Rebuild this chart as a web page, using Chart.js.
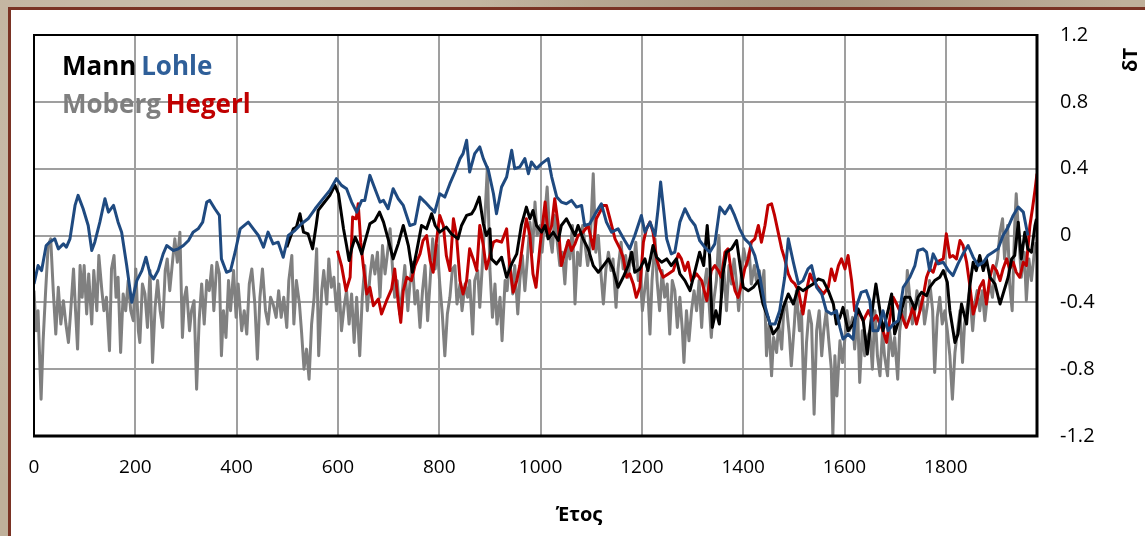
<!DOCTYPE html>
<html>
<head>
<meta charset="utf-8">
<title>Mann Lohle Moberg Hegerl</title>
<script src="https://cdn.jsdelivr.net/npm/chart.js@4.4.1/dist/chart.umd.min.js"></script>
<style>
	html, body { margin: 0; padding: 0; }
	body {
		width: 1145px; height: 536px; overflow: hidden; position: relative;
		background-color: #bfb09a;
		background-image:
			radial-gradient(circle at 20% 30%, rgba(255,255,255,0.25) 0, rgba(255,255,255,0) 40%),
			radial-gradient(circle at 70% 10%, rgba(90,70,50,0.25) 0, rgba(90,70,50,0) 35%);
	}
	#panel {
		position: absolute; left: 8px; top: 7px; width: 1200px; height: 600px;
		background: #fff; border: 3px solid #7a3324;
	}
	#chart { position: absolute; left: 0; top: 0; }
</style>
</head>
<body>
<div id="panel"></div>
<canvas id="chart" width="1145" height="536"></canvas>
<script>
// [year, δT]
const lohle = [
	[0,-0.29],[8,-0.18],[15,-0.21],[24,-0.06],[31,-0.04],[41,-0.02],[48,-0.08],[58,-0.05],[64,-0.07],[71,-0.02],
	[81,0.18],[87,0.24],[97,0.16],[107,0.06],[114,-0.09],[120,-0.04],[130,0.08],[140,0.22],[147,0.14],[157,0.18],
	[166,0.08],[173,0.02],[183,-0.18],[193,-0.40],[203,-0.27],[213,-0.21],[221,-0.13],[229,-0.23],[236,-0.26],[245,-0.21],
	[255,-0.11],[262,-0.06],[275,-0.09],[285,-0.08],[295,-0.06],[305,-0.03],[314,0.02],[324,0.04],[333,0.08],[341,0.20],
	[347,0.21],[357,0.16],[366,0.12],[370,-0.14],[380,-0.22],[388,-0.21],[397,-0.10],[407,0.04],[423,0.08],[433,0.04],
	[443,0.0],[453,-0.07],[462,0.02],[472,-0.05],[482,-0.04],[492,-0.13],[502,0.0],[515,0.03],[528,0.07],[541,0.10],
	[555,0.16],[568,0.21],[584,0.27],[597,0.34],[607,0.30],[617,0.28],[627,0.20],[637,0.14],[647,0.21],[653,0.21],
	[663,0.36],[673,0.28],[683,0.20],[690,0.21],[699,0.16],[709,0.28],[719,0.22],[729,0.18],[742,0.06],[752,0.07],
	[762,0.23],[772,0.20],[781,0.17],[791,0.14],[801,0.25],[811,0.23],[821,0.31],[831,0.38],[841,0.46],[847,0.49],
	[854,0.57],[860,0.38],[870,0.49],[880,0.53],[887,0.46],[897,0.39],[907,0.25],[913,0.13],[923,0.29],[933,0.35],
	[943,0.51],[949,0.40],[959,0.41],[969,0.46],[976,0.37],[982,0.44],[992,0.40],[1002,0.43],[1015,0.46],[1022,0.35],
	[1032,0.23],[1041,0.20],[1051,0.19],[1061,0.21],[1071,0.17],[1081,0.18],[1087,0.06],[1097,0.07],[1110,0.14],[1120,0.19],
	[1130,0.08],[1140,0.02],[1153,0.04],[1166,-0.03],[1176,-0.08],[1186,0.0],[1199,0.12],[1206,0.02],[1216,0.08],[1226,0.0],
	[1232,0.16],[1237,0.32],[1242,0.18],[1249,-0.02],[1258,-0.11],[1265,-0.10],[1275,0.08],[1285,0.16],[1295,0.10],[1305,0.06],
	[1314,-0.03],[1324,-0.07],[1334,-0.10],[1344,-0.05],[1354,0.17],[1364,0.13],[1374,0.18],[1383,0.12],[1393,0.04],[1403,-0.02],
	[1413,-0.05],[1423,-0.12],[1433,-0.25],[1443,-0.42],[1453,-0.53],[1463,-0.53],[1472,-0.45],[1482,-0.25],[1489,-0.02],[1499,-0.16],
	[1509,-0.29],[1518,-0.27],[1528,-0.20],[1535,-0.18],[1545,-0.31],[1555,-0.35],[1564,-0.45],[1574,-0.47],[1584,-0.45],[1591,-0.55],
	[1597,-0.62],[1607,-0.59],[1617,-0.62],[1624,-0.42],[1633,-0.34],[1643,-0.33],[1650,-0.39],[1656,-0.57],[1666,-0.57],[1676,-0.45],
	[1686,-0.57],[1696,-0.53],[1706,-0.51],[1716,-0.31],[1729,-0.25],[1739,-0.18],[1745,-0.09],[1755,-0.08],[1762,-0.10],[1768,-0.21],
	[1775,-0.11],[1785,-0.17],[1795,-0.16],[1805,-0.21],[1814,-0.24],[1824,-0.17],[1834,-0.11],[1844,-0.06],[1854,-0.13],[1864,-0.18],
	[1874,-0.16],[1883,-0.12],[1893,-0.10],[1903,-0.08],[1913,0.0],[1923,0.05],[1933,0.12],[1943,0.17],[1953,0.14],[1962,0.0]
];

const mann = [
	[499,-0.07],[512,0.04],[518,0.05],[525,0.13],[532,0.02],[541,0.01],[550,-0.08],[557,0.06],[561,0.15],[571,0.19],
	[584,0.24],[594,0.30],[601,0.25],[611,0.04],[617,-0.06],[622,-0.15],[627,-0.08],[634,-0.01],[640,-0.05],[647,-0.11],
	[653,-0.04],[663,0.07],[673,0.09],[682,0.14],[690,0.08],[699,-0.02],[709,-0.14],[719,-0.05],[729,0.06],[739,-0.06],
	[747,-0.22],[755,-0.10],[765,0.06],[775,0.04],[785,0.13],[792,0.06],[801,0.02],[814,0.05],[824,0.01],[837,-0.02],
	[844,0.06],[854,0.12],[864,0.13],[870,0.16],[879,0.23],[887,0.07],[893,0.0],[900,0.04],[903,-0.14],[913,-0.17],
	[923,-0.13],[933,-0.25],[943,-0.17],[953,-0.11],[962,0.06],[972,0.17],[979,0.10],[985,0.15],[992,0.06],[1002,0.02],
	[1009,0.06],[1015,-0.02],[1025,0.02],[1035,-0.03],[1041,0.06],[1051,0.10],[1058,0.06],[1068,0.0],[1074,0.06],[1084,-0.02],
	[1094,-0.08],[1104,-0.18],[1114,-0.22],[1124,-0.18],[1134,-0.14],[1143,-0.20],[1153,-0.31],[1163,-0.25],[1173,-0.18],[1180,-0.10],
	[1186,-0.22],[1196,-0.20],[1206,-0.14],[1212,-0.21],[1222,-0.06],[1229,-0.13],[1239,-0.16],[1249,-0.14],[1258,-0.18],[1268,-0.14],
	[1275,-0.23],[1285,-0.27],[1295,-0.33],[1305,-0.21],[1314,-0.10],[1322,-0.18],[1329,0.06],[1334,-0.14],[1339,-0.55],[1346,-0.45],
	[1353,-0.53],[1360,-0.23],[1367,-0.10],[1377,-0.08],[1387,-0.03],[1393,-0.16],[1400,-0.31],[1410,-0.33],[1420,-0.31],[1430,-0.27],
	[1439,-0.41],[1449,-0.49],[1459,-0.59],[1469,-0.55],[1479,-0.43],[1489,-0.35],[1499,-0.41],[1509,-0.31],[1518,-0.33],[1528,-0.31],
	[1538,-0.29],[1548,-0.26],[1558,-0.27],[1568,-0.33],[1578,-0.41],[1584,-0.53],[1591,-0.49],[1597,-0.43],[1607,-0.57],[1617,-0.53],
	[1627,-0.44],[1637,-0.51],[1645,-0.71],[1650,-0.57],[1656,-0.42],[1662,-0.29],[1670,-0.45],[1676,-0.57],[1686,-0.45],[1693,-0.35],
	[1699,-0.59],[1709,-0.49],[1719,-0.37],[1729,-0.37],[1739,-0.44],[1745,-0.37],[1752,-0.34],[1762,-0.36],[1768,-0.31],[1778,-0.27],
	[1788,-0.25],[1795,-0.21],[1803,-0.28],[1808,-0.45],[1818,-0.64],[1824,-0.59],[1831,-0.41],[1841,-0.53],[1847,-0.31],[1854,-0.16],
	[1860,-0.21],[1867,-0.12],[1874,-0.21],[1880,-0.14],[1887,-0.25],[1897,-0.29],[1907,-0.41],[1913,-0.35],[1923,-0.25],[1930,-0.14],
	[1936,-0.12],[1943,0.08],[1949,-0.14],[1956,0.02],[1962,-0.08],[1969,-0.10],[1976,0.06],[1979,0.10]
];

const hegerl = [
	[599,-0.09],[607,-0.18],[616,-0.33],[624,-0.25],[629,0.11],[636,0.10],[640,0.19],[645,-0.04],[650,-0.18],[657,-0.35],
	[663,-0.31],[670,-0.42],[680,-0.38],[686,-0.47],[696,-0.39],[706,-0.32],[712,-0.20],[719,-0.40],[724,-0.52],[729,-0.33],
	[736,-0.25],[745,-0.27],[752,-0.18],[762,-0.11],[768,-0.03],[775,0.0],[782,-0.15],[788,-0.22],[795,-0.02],[801,0.12],
	[808,0.06],[814,-0.12],[821,-0.21],[828,0.10],[834,0.0],[841,-0.27],[847,-0.35],[854,-0.27],[860,-0.08],[867,-0.14],
	[874,-0.21],[880,0.06],[887,-0.06],[893,-0.20],[900,-0.12],[907,-0.04],[913,-0.03],[923,-0.04],[933,0.04],[939,-0.18],
	[946,-0.34],[953,-0.27],[959,-0.18],[966,-0.02],[972,0.10],[979,0.0],[985,-0.23],[991,-0.31],[999,-0.06],[1009,0.20],
	[1015,0.0],[1022,0.06],[1028,0.22],[1035,0.06],[1041,-0.18],[1048,-0.10],[1055,-0.03],[1061,-0.09],[1068,-0.05],[1074,0.0],
	[1084,0.02],[1094,0.06],[1104,-0.08],[1110,0.10],[1117,0.14],[1124,0.18],[1130,0.18],[1137,0.10],[1147,-0.02],[1157,-0.08],
	[1163,-0.13],[1170,-0.25],[1176,-0.23],[1183,-0.29],[1189,-0.37],[1196,-0.31],[1203,-0.04],[1209,0.04],[1216,0.08],[1222,0.02],
	[1229,-0.14],[1235,-0.20],[1242,-0.25],[1252,-0.23],[1262,-0.21],[1272,-0.11],[1278,-0.14],[1285,-0.21],[1291,-0.16],[1298,-0.27],
	[1308,-0.23],[1318,-0.27],[1328,-0.39],[1337,-0.21],[1344,-0.18],[1351,-0.21],[1357,-0.25],[1364,-0.10],[1370,-0.08],[1377,-0.23],
	[1384,-0.33],[1390,-0.37],[1397,-0.29],[1403,-0.20],[1410,-0.14],[1416,-0.04],[1423,-0.02],[1430,0.06],[1436,-0.04],[1443,0.06],
	[1449,0.18],[1456,0.19],[1462,0.12],[1469,0.02],[1476,-0.08],[1482,-0.14],[1489,-0.23],[1495,-0.27],[1502,-0.29],[1509,-0.33],
	[1518,-0.47],[1525,-0.33],[1532,-0.23],[1538,-0.27],[1548,-0.31],[1558,-0.35],[1568,-0.31],[1574,-0.20],[1581,-0.27],[1588,-0.18],
	[1594,-0.14],[1601,-0.20],[1607,-0.12],[1614,-0.27],[1620,-0.45],[1630,-0.47],[1637,-0.51],[1647,-0.45],[1656,-0.51],[1663,-0.48],
	[1670,-0.53],[1676,-0.57],[1683,-0.64],[1689,-0.51],[1696,-0.37],[1703,-0.41],[1712,-0.47],[1722,-0.55],[1729,-0.49],[1735,-0.43],
	[1742,-0.53],[1749,-0.45],[1755,-0.37],[1762,-0.25],[1768,-0.20],[1775,-0.22],[1781,-0.16],[1795,-0.14],[1801,0.01],[1808,-0.13],
	[1814,-0.12],[1821,-0.14],[1828,-0.03],[1834,-0.06],[1841,-0.16],[1847,-0.29],[1854,-0.47],[1860,-0.41],[1867,-0.31],[1874,-0.27],
	[1880,-0.41],[1887,-0.25],[1893,-0.18],[1900,-0.21],[1907,-0.27],[1913,-0.20],[1920,-0.14],[1926,-0.20],[1933,-0.16],[1939,-0.22],
	[1946,-0.25],[1953,-0.16],[1959,-0.18],[1966,0.06],[1971,0.16],[1976,0.27],[1980,0.37]
];

const moberg = [
	[0,-0.33],[4,-0.57],[8,-0.45],[14,-0.98],[18,-0.63],[23,-0.33],[28,-0.06],[33,-0.02],[38,-0.33],[43,-0.59],
	[48,-0.31],[53,-0.53],[58,-0.39],[63,-0.53],[68,-0.64],[72,-0.47],[78,-0.20],[82,-0.45],[86,-0.68],[91,-0.18],
	[95,-0.37],[99,-0.18],[104,-0.47],[108,-0.23],[114,-0.53],[118,-0.21],[124,-0.45],[128,-0.12],[134,-0.33],[138,-0.45],
	[143,-0.37],[149,-0.69],[153,-0.20],[158,-0.12],[162,-0.37],[166,-0.25],[171,-0.70],[176,-0.35],[181,-0.45],[186,-0.27],
	[191,-0.45],[196,-0.51],[201,-0.20],[206,-0.57],[209,-0.64],[214,-0.29],[219,-0.35],[224,-0.55],[229,-0.21],[234,-0.76],
	[239,-0.43],[244,-0.27],[249,-0.45],[254,-0.55],[259,-0.21],[263,-0.14],[268,-0.33],[274,-0.14],[278,-0.02],[283,-0.16],
	[288,0.02],[293,-0.61],[297,-0.37],[301,-0.31],[307,-0.57],[311,-0.45],[316,-0.39],[321,-0.92],[326,-0.51],[331,-0.29],
	[336,-0.53],[341,-0.27],[346,-0.33],[351,-0.18],[355,-0.45],[361,-0.16],[366,-0.23],[370,-0.72],[374,-0.45],[379,-0.61],
	[384,-0.27],[388,-0.45],[394,-0.21],[399,-0.49],[403,-0.29],[410,-0.57],[415,-0.45],[420,-0.59],[425,-0.29],[430,-0.20],
	[436,-0.41],[441,-0.74],[446,-0.37],[451,-0.20],[457,-0.45],[462,-0.53],[467,-0.37],[472,-0.41],[478,-0.49],[483,-0.33],
	[488,-0.49],[493,-0.37],[499,-0.55],[503,-0.27],[509,-0.12],[513,-0.53],[518,-0.27],[524,-0.41],[528,-0.57],[533,-0.80],
	[538,-0.68],[543,-0.86],[548,-0.53],[553,-0.37],[558,-0.08],[562,-0.72],[568,-0.33],[572,-0.21],[578,-0.41],[582,-0.14],
	[587,-0.31],[592,-0.25],[597,-0.45],[602,-0.29],[607,-0.57],[612,-0.43],[617,-0.33],[622,-0.53],[627,-0.35],[632,-0.64],
	[637,-0.37],[643,-0.72],[648,-0.37],[653,-0.18],[658,-0.45],[663,-0.25],[668,-0.12],[673,-0.23],[678,-0.10],[683,-0.37],
	[688,-0.06],[693,-0.23],[698,-0.10],[703,0.04],[708,-0.21],[712,-0.37],[717,-0.27],[722,-0.47],[728,-0.31],[732,-0.18],
	[738,-0.45],[742,-0.29],[747,-0.16],[752,-0.41],[757,-0.33],[762,-0.55],[767,-0.33],[772,-0.18],[777,-0.51],[782,-0.27],
	[787,-0.02],[792,-0.20],[796,-0.06],[801,-0.29],[806,-0.47],[811,-0.72],[816,-0.47],[821,-0.37],[826,-0.20],[831,-0.18],
	[835,-0.41],[841,-0.29],[845,-0.45],[851,-0.29],[856,-0.37],[860,-0.27],[866,-0.59],[870,-0.27],[876,-0.21],[880,-0.43],
	[885,-0.18],[890,0.10],[895,0.41],[900,-0.20],[905,-0.49],[910,-0.29],[914,-0.53],[920,-0.37],[924,-0.63],[930,-0.27],
	[934,-0.33],[939,-0.14],[945,-0.35],[949,-0.18],[955,-0.47],[959,-0.27],[964,-0.12],[969,-0.33],[974,-0.14],[979,0.08],
	[984,-0.10],[989,0.20],[993,0.0],[999,0.06],[1003,-0.10],[1009,0.14],[1013,0.29],[1018,0.0],[1023,-0.10],[1028,0.12],
	[1033,-0.04],[1038,-0.18],[1043,-0.10],[1048,-0.29],[1053,-0.04],[1058,-0.14],[1063,0.06],[1068,-0.41],[1073,-0.10],[1078,-0.18],
	[1083,0.06],[1088,-0.06],[1093,-0.18],[1097,-0.10],[1104,0.37],[1109,-0.10],[1114,0.0],[1118,-0.18],[1124,-0.41],[1129,-0.20],
	[1134,-0.10],[1139,-0.21],[1143,-0.14],[1149,-0.43],[1153,-0.20],[1159,-0.04],[1163,-0.20],[1168,-0.12],[1173,-0.25],[1178,-0.10],
	[1183,-0.18],[1188,-0.04],[1193,-0.27],[1196,-0.20],[1201,-0.45],[1206,-0.31],[1210,-0.21],[1216,-0.59],[1220,-0.27],[1226,-0.02],
	[1230,-0.27],[1235,-0.45],[1240,-0.21],[1245,-0.37],[1250,-0.29],[1255,-0.59],[1260,-0.27],[1265,-0.33],[1270,-0.55],[1275,-0.37],
	[1280,-0.57],[1283,-0.76],[1288,-0.45],[1293,-0.63],[1298,-0.45],[1303,-0.33],[1308,-0.45],[1313,-0.27],[1318,-0.55],[1322,-0.33],
	[1328,-0.20],[1332,-0.37],[1337,-0.61],[1342,-0.39],[1347,-0.27],[1352,0.0],[1357,-0.37],[1362,-0.21],[1367,-0.45],[1372,-0.18],
	[1377,-0.29],[1382,-0.14],[1387,-0.29],[1391,-0.45],[1397,-0.21],[1401,-0.08],[1407,-0.18],[1412,-0.10],[1416,-0.29],[1422,-0.18],
	[1426,-0.27],[1432,-0.21],[1436,-0.33],[1441,-0.21],[1446,-0.72],[1451,-0.53],[1456,-0.84],[1460,-0.61],[1466,-0.70],[1470,-0.53],
	[1476,-0.68],[1480,-0.45],[1485,-0.41],[1491,-0.59],[1495,-0.78],[1501,-0.53],[1505,-0.33],[1511,-0.57],[1515,-0.45],[1520,-0.98],
	[1525,-0.64],[1530,-0.45],[1535,-0.53],[1540,-1.07],[1545,-0.57],[1550,-0.45],[1555,-0.72],[1559,-0.57],[1564,-0.45],[1569,-0.63],
	[1574,-0.80],[1577,-1.20],[1581,-0.72],[1585,-0.96],[1591,-0.63],[1596,-0.76],[1601,-0.61],[1605,-0.45],[1610,-0.57],[1616,-0.49],
	[1620,-0.68],[1626,-0.45],[1630,-0.88],[1635,-0.57],[1640,-0.72],[1645,-0.61],[1650,-0.57],[1655,-0.80],[1660,-0.45],[1665,-0.72],
	[1670,-0.84],[1675,-0.57],[1679,-0.72],[1685,-0.84],[1689,-0.57],[1695,-0.72],[1699,-0.61],[1705,-0.86],[1709,-0.57],[1714,-0.45],
	[1719,-0.53],[1724,-0.21],[1729,-0.37],[1734,-0.53],[1739,-0.45],[1743,-0.33],[1749,-0.45],[1754,-0.37],[1758,-0.53],[1764,-0.41],
	[1768,-0.27],[1774,-0.45],[1778,-0.82],[1783,-0.49],[1788,-0.37],[1793,-0.53],[1798,-0.45],[1803,-0.57],[1808,-0.72],[1813,-0.98],
	[1818,-0.70],[1823,-0.57],[1828,-0.45],[1833,-0.76],[1837,-0.53],[1843,-0.41],[1847,-0.33],[1853,-0.57],[1857,-0.41],[1862,-0.33],
	[1867,-0.45],[1872,-0.33],[1877,-0.51],[1882,-0.37],[1887,-0.29],[1892,-0.37],[1897,-0.21],[1902,-0.14],[1907,0.02],[1912,0.10],
	[1916,-0.14],[1922,0.06],[1926,-0.29],[1931,-0.45],[1936,0.06],[1939,0.25],[1945,-0.06],[1949,-0.25],[1955,-0.10],[1959,-0.39],
	[1964,-0.14],[1969,-0.27],[1974,-0.12],[1978,-0.04]
];

const xTicks = [0, 200, 400, 600, 800, 1000, 1200, 1400, 1600, 1800];
const yTicks = [-1.2, -0.8, -0.4, 0, 0.4, 0.8, 1.2];
const xTitle = 'Έτος';
const yTitle = 'δT';

const FONT = "'Open Sans', 'DejaVu Sans', sans-serif";

// 범례 글자 (두 줄, 색깔로 구분)
const legendRows = [['Mann', 'Lohle'], ['Moberg', 'Hegerl']];

const toPoints = arr => arr.map(p => ({ x: p[0], y: p[1] }));

const framePlugin = {
	id: 'frameAndText',
	afterDatasetsDraw(chart) {
		const { ctx, chartArea: a } = chart;
		ctx.save();
		ctx.strokeStyle = '#000';
		ctx.lineWidth = 2;
		ctx.beginPath();
		ctx.moveTo(a.left, a.bottom);
		ctx.lineTo(a.left, a.top);
		ctx.lineTo(a.right, a.top);
		ctx.stroke();
		ctx.lineWidth = 3;
		ctx.beginPath();
		ctx.moveTo(a.right, a.top - 1);
		ctx.lineTo(a.right, a.bottom);
		ctx.lineTo(a.left - 1, a.bottom);
		ctx.stroke();

		// legend text
		ctx.font = "bold 26px " + FONT;
		ctx.textBaseline = 'alphabetic';
		ctx.textAlign = 'left';
		const colorOf = {};
		chart.data.datasets.forEach(d => colorOf[d.label] = d.textColor);
		legendRows.forEach((row, i) => {
			let x = 62;
			const y = 75 + i * 38;
			row.forEach(name => {
				ctx.fillStyle = colorOf[name];
				ctx.fillText(name, x, y);
				x += ctx.measureText(name + ' ').width - 2;
			});
		});

		// axis titles
		ctx.fillStyle = '#000';
		ctx.font = "bold 20px " + FONT;
		ctx.textAlign = 'center';
		ctx.textBaseline = 'middle';
		ctx.fillText(xTitle, 579, 515);
		ctx.translate(1131, 60);
		ctx.rotate(-Math.PI / 2);
		ctx.fillText(yTitle, 0, 0);
		ctx.restore();
	}
};

new Chart(document.getElementById('chart'), {
	type: 'line',
	data: {
		datasets: [
			{ label: 'Lohle', data: toPoints(lohle), borderColor: '#1f4a80', textColor: '#2f5f99' },
			{ label: 'Mann', data: toPoints(mann), borderColor: '#000000', textColor: '#000000' },
			{ label: 'Hegerl', data: toPoints(hegerl), borderColor: '#c00000', textColor: '#c00000' },
			{ label: 'Moberg', data: toPoints(moberg), borderColor: '#808080', textColor: '#7f7f7f' }
		]
	},
	options: {
		responsive: false,
		animation: false,
		devicePixelRatio: 1,
		layout: { padding: { left: 34, top: 26, right: 0, bottom: 0 } },
		elements: {
			line: { borderWidth: 3, tension: 0, fill: false, borderJoinStyle: 'round' },
			point: { radius: 0, hoverRadius: 0 }
		},
		plugins: {
			legend: { display: false },
			tooltip: { enabled: false }
		},
		scales: {
			x: {
				type: 'linear',
				min: 0,
				max: 1980,
				afterBuildTicks: s => { s.ticks = xTicks.map(v => ({ value: v })); },
				afterFit: s => { s.height = 100; },
				grid: { color: '#9f9f9f', lineWidth: 2, drawTicks: false },
				border: { display: false },
				ticks: {
					font: { family: FONT, size: 19 },
					color: '#000',
					padding: 20,
					maxRotation: 0,
					autoSkip: false,
					callback: v => String(v)
				}
			},
			y: {
				type: 'linear',
				position: 'right',
				min: -1.2,
				max: 1.2,
				afterBuildTicks: s => { s.ticks = yTicks.map(v => ({ value: v })); },
				afterFit: s => { s.width = 108; },
				grid: { color: '#9f9f9f', lineWidth: 2, drawTicks: false },
				border: { display: false },
				ticks: {
					font: { family: FONT, size: 20 },
					color: '#000',
					padding: 23,
					callback: v => String(parseFloat(v.toFixed(1)))
				}
			}
		}
	},
	plugins: [framePlugin]
});
</script>
</body>
</html>
